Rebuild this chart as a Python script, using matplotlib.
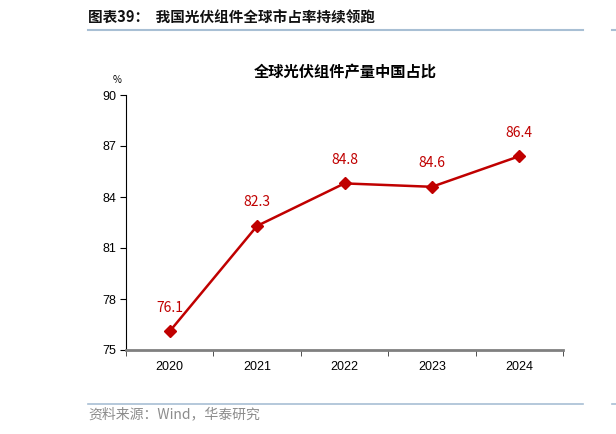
import matplotlib
matplotlib.use("Agg")
import matplotlib.pyplot as plt
from matplotlib.lines import Line2D

plt.rcParams['font.family'] = ['Noto Sans CJK SC', 'DejaVu Sans']

years = ["2020", "2021", "2022", "2023", "2024"]
share = [76.1, 82.3, 84.8, 84.6, 86.4]
yticks = [75, 78, 81, 84, 87, 90]

red = "#C00000"
W, H = 616, 434
fig = plt.figure(figsize=(W / 100, H / 100), dpi=100)

# header / footer decorations
fig.text(88 / W, 1 - 18 / H, "图表39：  我国光伏组件全球市占率持续领跑",
         fontsize=10.5, fontweight="bold", va="center", ha="left", color="#111111")
fig.add_artist(Line2D([88 / W, 583 / W], [1 - 30 / H, 1 - 30 / H],
                      color="#a8bfd4", lw=1.5, transform=fig.transFigure))
fig.add_artist(Line2D([612 / W, 1.0], [1 - 30 / H, 1 - 30 / H],
                      color="#a8bfd4", lw=1.5, transform=fig.transFigure))
fig.add_artist(Line2D([88 / W, 583 / W], [1 - 404 / H, 1 - 404 / H],
                      color="#a8bfd4", lw=1.2, transform=fig.transFigure))
fig.add_artist(Line2D([612 / W, 1.0], [1 - 404 / H, 1 - 404 / H],
                      color="#a8bfd4", lw=1.2, transform=fig.transFigure))
fig.text(88 / W, 1 - 414 / H, "资料来源：Wind，华泰研究",
         fontsize=10, va="center", ha="left", color="#8c8c8c")

ax = fig.add_axes([126 / W, 1 - 350 / H, (563 - 126) / W, (350 - 95) / H])
x = list(range(len(years)))
ax.plot(x, share, color=red, lw=1.8, marker="D", markersize=6.5, zorder=3)
for xi, v in zip(x, share):
    ax.annotate(f"{v}", (xi, v), xytext=(0, 12), textcoords="offset points",
                ha="center", va="bottom", fontsize=10, color=red)

ax.set_xlim(-0.5, len(years) - 0.5)
ax.set_ylim(75, 90)
ax.set_yticks(yticks)
ax.set_xticks(x)
ax.set_xticklabels(years)
ax.tick_params(axis="y", direction="out", length=4, labelsize=9, pad=3)
ax.tick_params(axis="x", length=0, labelsize=9, pad=8)
# minor ticks at category boundaries
ax.set_xticks([i - 0.5 for i in range(len(years) + 1)], minor=True)
ax.tick_params(axis="x", which="minor", direction="out", length=4, color="#333333")
for lab in ax.get_xticklabels() + ax.get_yticklabels():
    lab.set_fontfamily(['Liberation Sans', 'DejaVu Sans'])

ax.spines["top"].set_visible(False)
ax.spines["right"].set_visible(False)
ax.spines["left"].set_color("black")
ax.spines["bottom"].set_color("#808080")
ax.spines["bottom"].set_linewidth(2)

ax.text(-0.02, 1.06, "%", transform=ax.transAxes, fontsize=7, ha="center", va="center")
fig.text(345 / W, 1 - 72 / H, "全球光伏组件产量中国占比", fontsize=11,
         fontweight="bold", ha="center", va="center")

fig.savefig("out.png", dpi=100)
